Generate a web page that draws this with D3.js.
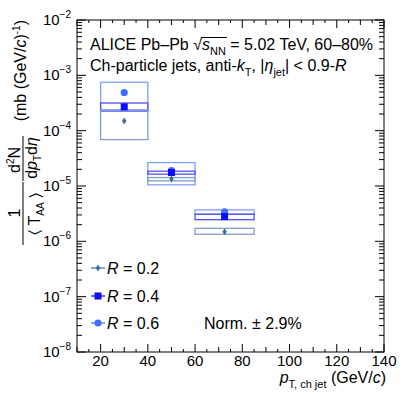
<!DOCTYPE html>
<html>
<head>
<meta charset="utf-8">
<title>jet spectra</title>
<style>
  body { margin: 0; background: #fff; }
  svg { display: block; font-family: "Liberation Sans", Arial, sans-serif; }
</style>
</head>
<body>
<svg width="407" height="397"></svg>
<script src="https://d3js.org/d3.v7.min.js"></script>
<script>
// bins in pT (GeV/c)
const binLo = [20, 40, 60];
const binHi = [40, 60, 85];
const binCenter = [30, 50, 72.5];

// spectra, R = 0.2 / 0.4 / 0.6
const valR02 = [1.5e-4, 1.34e-5, 1.49e-6];
const valR04 = [2.7e-4, 1.75e-5, 2.8e-6];
const valR06 = [4.9e-4, 1.9e-5, 3.4e-6];

// systematic boxes (low / high edges)
const sysLoR02 = [6.9e-5, 1.24e-5, 1.34e-6];
const sysHiR02 = [2.36e-4, 1.42e-5, 1.72e-6];
const sysLoR04 = [2.26e-4, 1.64e-5, 2.46e-6];
const sysHiR04 = [3.16e-4, 1.85e-5, 3.08e-6];
const sysLoR06 = [2.35e-4, 1.05e-5, 3.1e-6];
const sysHiR06 = [7.5e-4, 2.65e-5, 3.7e-6];

const xTicks = [20, 40, 60, 80, 100, 120, 140];
const yExps = [-2, -3, -4, -5, -6, -7, -8];

const svg = d3.select("svg");
const L = 77, R = 384, T = 20, B = 352;

const x = d3.scaleLinear().domain([10, 140]).range([L, R]);
const y = d3.scaleLog().domain([1e-8, 1e-2]).range([B, T]);

// frame
svg.append("rect").attr("x", L).attr("y", T).attr("width", R - L).attr("height", B - T)
  .attr("fill", "none").attr("stroke", "#000").attr("stroke-width", 1);

// x ticks (inside, bottom and top)
const tk = svg.append("g").attr("stroke", "#000").attr("stroke-width", 1);
for (let v = 10; v <= 140; v += 5) {
  const len = v % 20 === 0 ? 8 : (v % 10 === 0 ? 5 : 3);
  tk.append("line").attr("x1", x(v)).attr("x2", x(v)).attr("y1", B).attr("y2", B - len);
  tk.append("line").attr("x1", x(v)).attr("x2", x(v)).attr("y1", T).attr("y2", T + len);
}
// y ticks (log)
for (let e = -8; e <= -2; e++) {
  for (let m = 1; m <= 9; m++) {
    const v = m * Math.pow(10, e);
    if (v > 1e-2 * 1.0001) break;
    const len = m === 1 ? 9 : 5;
    tk.append("line").attr("x1", L).attr("x2", L + len).attr("y1", y(v)).attr("y2", y(v));
    tk.append("line").attr("x1", R).attr("x2", R - len).attr("y1", y(v)).attr("y2", y(v));
  }
}

// x tick labels
svg.append("g").selectAll("text").data(xTicks).join("text")
  .attr("x", d => x(d)).attr("y", 366).attr("text-anchor", "middle")
  .attr("font-size", 15).text(d => d);

// y tick labels
const yl = svg.append("g").selectAll("text").data(yExps).join("text")
  .attr("x", 71).attr("y", d => y(Math.pow(10, d)) + 5).attr("text-anchor", "end")
  .attr("font-size", 15);
yl.append("tspan").text("10");
yl.append("tspan").attr("font-size", 10).attr("dy", -7).text(d => "\u2212" + (-d));

// x title
const xt = svg.append("text").attr("x", 386).attr("y", 383).attr("text-anchor", "end").attr("font-size", 16);
xt.append("tspan").attr("font-style", "italic").text("p");
xt.append("tspan").attr("font-size", 11).attr("dy", 5).text("T, ch jet");
xt.append("tspan").attr("dy", -5).text(" (GeV/");
xt.append("tspan").attr("font-style", "italic").text("c");
xt.append("tspan").text(")");

// y title (rotated)
const yt = svg.append("g").attr("transform", "rotate(-90)").attr("font-size", 16);
yt.append("text").attr("x", -213).attr("y", 20).attr("text-anchor", "middle").text("1");
yt.append("line").attr("x1", -245).attr("x2", -182).attr("y1", 23).attr("y2", 23).attr("stroke", "#000");
const tAA = yt.append("text").attr("x", -214).attr("y", 40).attr("text-anchor", "middle");
tAA.append("tspan").text("\u2329 T");
tAA.append("tspan").attr("font-size", 10).attr("dy", 4).text("AA");
tAA.append("tspan").attr("dy", -4).text(" \u232A");
const d2n = yt.append("text").attr("x", -160).attr("y", 20).attr("text-anchor", "middle");
d2n.append("tspan").text("d");
d2n.append("tspan").attr("font-size", 10).attr("dy", -6).text("2");
d2n.append("tspan").attr("dy", 6).text("N");
yt.append("line").attr("x1", -181).attr("x2", -136).attr("y1", 23).attr("y2", 23).attr("stroke", "#000");
const dpt = yt.append("text").attr("x", -158).attr("y", 37).attr("text-anchor", "middle");
dpt.append("tspan").text("d");
dpt.append("tspan").attr("font-style", "italic").text("p");
dpt.append("tspan").attr("font-size", 10).attr("dy", 4).text("T");
dpt.append("tspan").attr("dy", -4).text("d");
dpt.append("tspan").attr("font-style", "italic").text("\u03B7");
const unit = yt.append("text").attr("x", -20).attr("y", 26).attr("text-anchor", "end");
unit.append("tspan").text("(mb (GeV/");
unit.append("tspan").attr("font-style", "italic").text("c");
unit.append("tspan").text(")");
unit.append("tspan").attr("font-size", 10).attr("dy", -6).text("-1");
unit.append("tspan").attr("dy", 6).text(")");

// series definitions built from the arrays
const series = [
  { name: "0.6", val: valR06, lo: sysLoR06, hi: sysHiR06, color: "#3f6fff", box: "#7f9fff", shape: "circle" },
  { name: "0.4", val: valR04, lo: sysLoR04, hi: sysHiR04, color: "#0a0aff", box: "#5050ff", shape: "square" },
  { name: "0.2", val: valR02, lo: sysLoR02, hi: sysHiR02, color: "#3a6b9e", box: "#7f9fcc", shape: "diamond" }
];

function marker(g, shape, cx, cy, color) {
  if (shape === "circle") {
    g.append("circle").attr("cx", cx).attr("cy", cy).attr("r", 3.6).attr("fill", color);
  } else if (shape === "square") {
    g.append("rect").attr("x", cx - 3.5).attr("y", cy - 3.5).attr("width", 7).attr("height", 7).attr("fill", color);
  } else {
    g.append("path").attr("d", `M${cx},${cy - 3.5}L${cx + 2.2},${cy}L${cx},${cy + 3.5}L${cx - 2.2},${cy}Z`).attr("fill", color);
  }
}

// boxes
const boxes = svg.append("g");
series.forEach(s => {
  s.val.forEach((v, i) => {
    boxes.append("rect")
      .attr("x", x(binLo[i])).attr("y", y(s.hi[i]))
      .attr("width", x(binHi[i]) - x(binLo[i]))
      .attr("height", y(s.lo[i]) - y(s.hi[i]))
      .attr("fill", "none").attr("stroke", s.box).attr("stroke-width", 1.3);
  });
});
// markers
const marks = svg.append("g");
series.forEach(s => {
  s.val.forEach((v, i) => marker(marks, s.shape, x(binCenter[i]), y(v), s.color));
});

// header text
const h1 = svg.append("text").attr("x", 90).attr("y", 50).attr("font-size", 16);
h1.append("tspan").text("ALICE Pb\u2013Pb ");
h1.append("tspan").text("\u221A");
const sTs = h1.append("tspan").attr("font-style", "italic").text("s");
const nnTs = h1.append("tspan").attr("font-size", 11).attr("dy", 5).text("NN");
h1.append("tspan").attr("dy", -5).text(" = 5.02 TeV, 60\u201380%");
// overline of the radical
{
  const a = sTs.node().getBBox(), b = nnTs.node().getBBox();
  svg.append("line").attr("x1", a.x - 1).attr("x2", b.x + b.width + 1)
    .attr("y1", a.y + 1.5).attr("y2", a.y + 1.5).attr("stroke", "#000").attr("stroke-width", 1);
}

const h2 = svg.append("text").attr("x", 90).attr("y", 71).attr("font-size", 16);
h2.append("tspan").text("Ch-particle jets, anti-");
h2.append("tspan").attr("font-style", "italic").text("k");
h2.append("tspan").attr("font-size", 11).attr("dy", 5).text("T");
h2.append("tspan").attr("dy", -5).text(", |");
h2.append("tspan").attr("font-style", "italic").text("\u03B7");
h2.append("tspan").attr("font-size", 11).attr("dy", 5).text("jet");
h2.append("tspan").attr("dy", -5).text("| < 0.9-");
h2.append("tspan").attr("font-style", "italic").text("R");

// legend
const legend = svg.append("g");
const legOrder = [series[2], series[1], series[0]];
const legY = [268, 296, 323];
legOrder.forEach((s, i) => {
  legend.append("line").attr("x1", 91).attr("x2", 105).attr("y1", legY[i]).attr("y2", legY[i])
    .attr("stroke", s.color).attr("stroke-width", 1.2);
  marker(legend, s.shape, 98, legY[i], s.color);
  const t = legend.append("text").attr("x", 107).attr("y", legY[i] + 6).attr("font-size", 16);
  t.append("tspan").attr("font-style", "italic").text("R");
  t.append("tspan").text(" = " + s.name);
});
svg.append("text").attr("x", 204).attr("y", 329).attr("font-size", 16).text("Norm. \u00B1 2.9%");
</script>
</body>
</html>
